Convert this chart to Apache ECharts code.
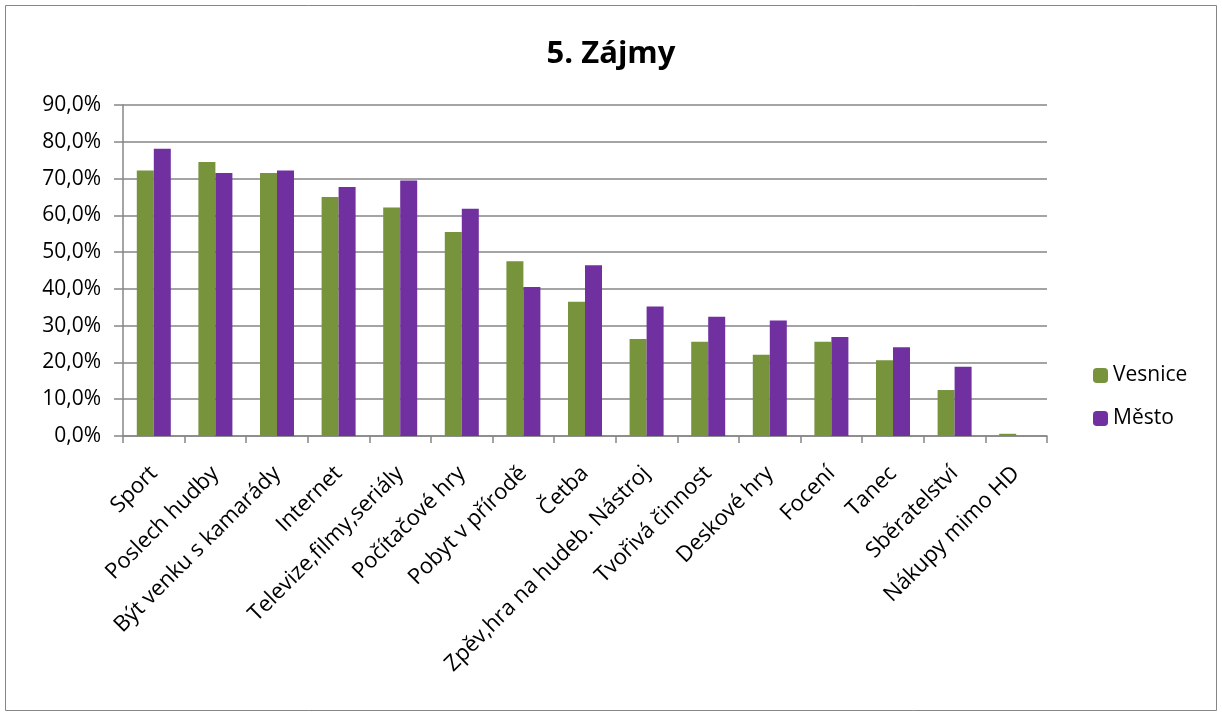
<!DOCTYPE html>
<html>
<head>
<meta charset="utf-8">
<script src="https://cdn.jsdelivr.net/npm/echarts@6/dist/echarts.min.js"></script>
<style>
  html, body { margin: 0; padding: 0; background: #fff; }
  #main { width: 1222px; height: 717px; }
</style>
</head>
<body>
<div id="main"></div>
<script>
// kategorie a hodnoty (v %)
const categories = ['Sport', 'Poslech hudby', 'Být venku s kamarády', 'Internet',
  'Televize,filmy,seriály', 'Počítačové hry', 'Pobyt v přírodě', 'Četba',
  'Zpěv,hra na hudeb. Nástroj', 'Tvořivá činnost', 'Deskové hry', 'Focení',
  'Tanec', 'Sběratelství', 'Nákupy mimo HD'];
const vesnice = [72.2, 74.5, 71.5, 65.0, 62.1, 55.5, 47.5, 36.5, 26.4, 25.6, 22.1, 25.6, 20.6, 12.5, 0.6];
const mesto = [78.1, 71.5, 72.2, 67.7, 69.5, 61.8, 40.5, 46.4, 35.2, 32.4, 31.4, 26.9, 24.1, 18.8, 0];
const yTicks = [0, 10, 20, 30, 40, 50, 60, 70, 80, 90];

const font = "'Open Sans', 'Noto Sans', sans-serif";
const chart = echarts.init(document.getElementById('main'));

const option = {
  animation: false,
  textStyle: { fontFamily: font },
  graphic: [{
    type: 'rect',
    shape: { x: 5.5, y: 5.5, width: 1211, height: 705 },
    style: { fill: 'none', stroke: '#868686', lineWidth: 1 },
    z: -1
  }],
  title: {
    text: '5. Zájmy',
    left: 'center',
    top: 34,
    textStyle: { fontFamily: font, fontSize: 31, fontWeight: 'bold', color: '#000' }
  },
  legend: {
    orient: 'vertical',
    left: 1088,
    top: 360,
    itemWidth: 15,
    itemHeight: 15,
    itemGap: 22,
    textStyle: { fontFamily: font, fontSize: 21, color: '#000' },
    data: ['Vesnice', 'Město']
  },
  grid: { left: 123, right: 175, top: 105, bottom: 281, containLabel: false },
  xAxis: {
    type: 'category',
    data: categories,
    axisLine: { lineStyle: { color: '#868686', width: 1.5 } },
    axisTick: { show: true, alignWithLabel: false, length: 7, lineStyle: { color: '#868686', width: 1.5 } },
    axisLabel: {
      rotate: 45,
      interval: 0,
      margin: 34,
      fontFamily: font,
      fontSize: 22,
      color: '#000'
    }
  },
  yAxis: {
    type: 'value',
    min: yTicks[0],
    max: yTicks[yTicks.length - 1],
    interval: 10,
    axisLine: { show: true, lineStyle: { color: '#868686', width: 1.5 } },
    axisTick: { show: true, length: 9, lineStyle: { color: '#868686', width: 1.5 } },
    splitLine: { lineStyle: { color: '#868686', width: 1.5 } },
    axisLabel: {
      margin: 22,
      fontFamily: font,
      fontSize: 21,
      color: '#000',
      formatter: v => v.toFixed(1).replace('.', ',') + '%'
    }
  },
  series: [
    {
      name: 'Vesnice',
      type: 'bar',
      data: vesnice,
      barWidth: 17,
      barGap: '0%',
      itemStyle: { color: '#77933C' }
    },
    {
      name: 'Město',
      type: 'bar',
      data: mesto,
      barWidth: 17,
      itemStyle: { color: '#7030A0' }
    }
  ]
};

chart.setOption(option);
</script>
</body>
</html>
